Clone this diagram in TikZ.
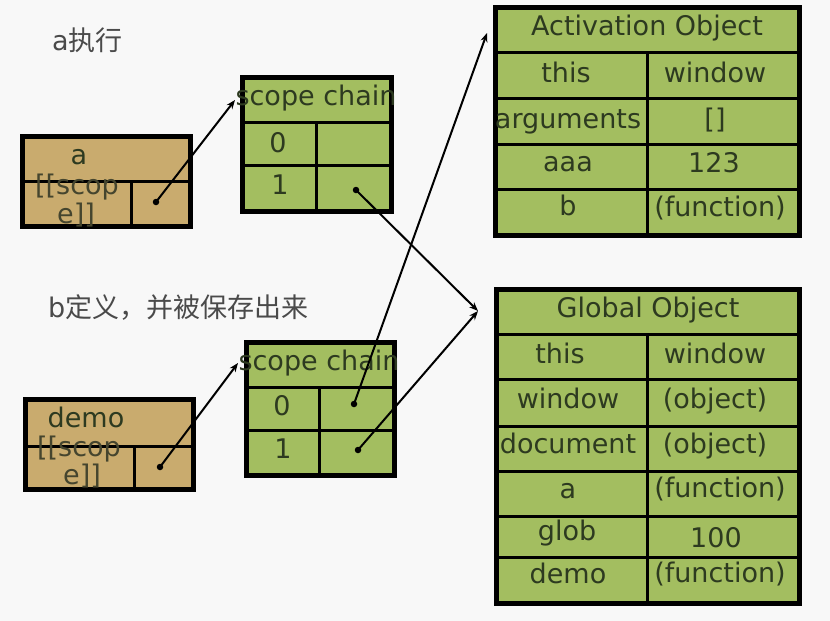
\documentclass[tikz,border=0pt]{standalone}
\usepackage{fontspec}
\setmainfont{DejaVu Sans}
\newfontfamily\cjk{Noto Sans CJK SC}
\usetikzlibrary{arrows.meta}
\definecolor{bg}{HTML}{F8F8F8}
\definecolor{tanfill}{HTML}{C9AB6E}
\definecolor{grn}{HTML}{A3BE60}
\definecolor{ink}{HTML}{2D3A20}
\definecolor{inkb}{HTML}{45452E}
\definecolor{note}{HTML}{4A4A4A}
\begin{document}
\begin{tikzpicture}[x=1pt,y=-1pt,
  outer/.style={line width=5pt},
  inner/.style={line width=3pt},
  lbl/.style={text=ink,font=\fontsize{27}{30}\selectfont,inner sep=0pt,anchor=base},
  lblb/.style={lbl,text=inkb},
  heading/.style={text=note,font=\fontsize{27}{30}\selectfont,inner sep=0pt,anchor=base west},
  dotn/.style={circle,fill=black,inner sep=0pt,minimum size=6.5pt},
  conn/.style={line width=2pt,-{Stealth[length=9pt,width=7pt]}},
  tanbox/.style={fill=tanfill},
  grnbox/.style={fill=grn}]
\useasboundingbox (0,0) rectangle (830,621);
\fill[bg] (0,0) rectangle (830,621);

% headings
\node[heading] (h1) at (52,50) {a{\cjk 执行}};
\node[heading] (h2) at (48,317) {b{\cjk 定义，并被保存出来}};

% box a
\fill[tanbox] (22,136) rectangle (190,226);
\draw[inner] (22,181) -- (190,181);
\draw[inner] (131,181) -- (131,226);
\draw[outer] (22,136) rectangle (190,226);
\node[lbl] (aname) at (79,164) {a};
\node[lblb] (ascope1) at (77,194) {[[scop};
\node[lblb] (ascope2) at (76,223) {e]]};
\node[dotn] (adot) at (156,202) {};

% box demo
\fill[tanbox] (25,399) rectangle (193,489);
\draw[inner] (25,446) -- (193,446);
\draw[inner] (134,446) -- (134,489);
\draw[outer] (25,399) rectangle (193,489);
\node[lbl] (dname) at (86,427) {demo};
\node[lblb] (dscope1) at (79,456) {[[scop};
\node[lblb] (dscope2) at (82,484) {e]]};
\node[dotn] (ddot) at (160,467) {};

% scope chain 1
\fill[grnbox] (242,77) rectangle (391,211);
\draw[inner] (242,122) -- (391,122);
\draw[inner] (242,165) -- (391,165);
\draw[inner] (316,122) -- (316,211);
\draw[outer] (242,77) rectangle (391,211);
\node[lbl] (sc1) at (316,105) {scope chain};
\node[lbl] (sc1a) at (278,152) {0};
\node[lbl] (sc1b) at (280,194) {1};
\node[dotn] (s1dot) at (356,190) {};

% scope chain 2
\fill[grnbox] (246,342) rectangle (394,475);
\draw[inner] (246,387) -- (394,387);
\draw[inner] (246,430) -- (394,430);
\draw[inner] (319,387) -- (319,475);
\draw[outer] (246,342) rectangle (394,475);
\node[lbl] (sc2) at (319,370) {scope chain};
\node[lbl] (sc2a) at (282,415) {0};
\node[lbl] (sc2b) at (283,458) {1};
\node[dotn] (s2dota) at (354,404) {};
\node[dotn] (s2dotb) at (358,450) {};

% Activation Object
\fill[grnbox] (495,7) rectangle (799,235);
\foreach \yy in {52,98,144,189} \draw[inner] (495,\yy) -- (799,\yy);
\draw[inner] (647,52) -- (647,235);
\draw[outer] (495,7) rectangle (799,235);
\node[lbl] (aoh) at (647,35) {Activation Object};
\node[lbl] (ao1l) at (566,82) {this};
\node[lbl] (ao1r) at (715,82) {window};
\node[lbl] (ao2l) at (568,128) {arguments};
\node[lbl] (ao2r) at (715,128) {[]};
\node[lbl] (ao3l) at (568,171) {aaa};
\node[lbl] (ao3r) at (714,172) {123};
\node[lbl] (ao4l) at (568,215) {b};
\node[lbl] (ao4r) at (720,216) {(function)};

% Global Object
\fill[grnbox] (496,289) rectangle (799,603);
\foreach \yy in {334,379,426,471,516,557} \draw[inner] (496,\yy) -- (799,\yy);
\draw[inner] (647,334) -- (647,603);
\draw[outer] (496,289) rectangle (799,603);
\node[lbl] (goh) at (648,317) {Global Object};
\node[lbl] (go1l) at (560,363) {this};
\node[lbl] (go1r) at (715,363) {window};
\node[lbl] (go2l) at (568,408) {window};
\node[lbl] (go2r) at (715,408) {(object)};
\node[lbl] (go3l) at (568,453) {document};
\node[lbl] (go3r) at (715,453) {(object)};
\node[lbl] (go4l) at (568,498) {a};
\node[lbl] (go4r) at (720,497) {(function)};
\node[lbl] (go5l) at (567,540) {glob};
\node[lbl] (go5r) at (716,547) {100};
\node[lbl] (go6l) at (568,583) {demo};
\node[lbl] (go6r) at (720,582) {(function)};

% arrow targets
\coordinate (t1) at (235,100);
\coordinate (t2) at (238,363);
\coordinate (tao) at (487,33);
\coordinate (tgo) at (478,311);

% connectors
\draw[conn] (adot.center) -- (t1);
\draw[conn] (ddot.center) -- (t2);
\draw[conn] (s2dota.center) -- (tao);
\draw[conn] (s1dot.center) -- (tgo);
\draw[conn] (s2dotb.center) -- (tgo);
\end{tikzpicture}
\end{document}
